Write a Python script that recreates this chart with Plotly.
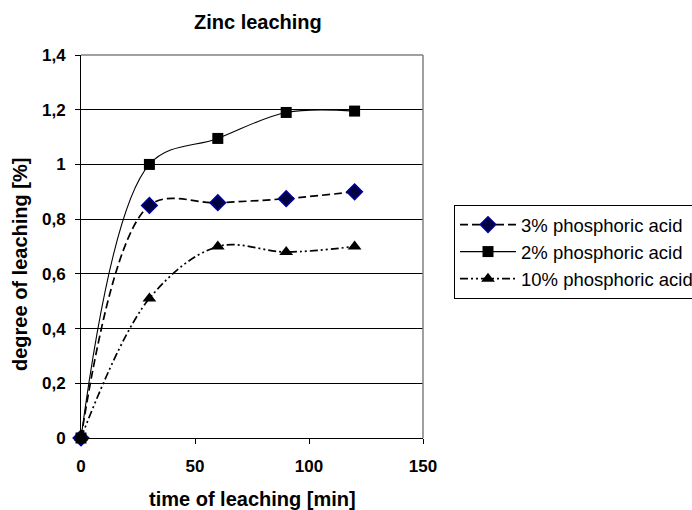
import plotly.graph_objects as go

time_min = [0, 30, 60, 90, 120]
acid3 = [0, 0.85, 0.86, 0.875, 0.90]
acid2 = [0, 1.00, 1.095, 1.19, 1.195]
acid10 = [0, 0.51, 0.70, 0.68, 0.70]
names = ["3% phosphoric acid", "2% phosphoric acid", "10% phosphoric acid"]
x_ticks = [0, 50, 100, 150]
y_ticks = [0, 0.2, 0.4, 0.6, 0.8, 1.0, 1.2, 1.4]

FONT = "Liberation Sans, Arial, sans-serif"

fig = go.Figure()
fig.add_trace(go.Scatter(
    x=time_min, y=acid3, name=names[0], mode="lines+markers",
    line=dict(color="black", width=1.7, dash="8px,4px", shape="spline", smoothing=1.0),
    marker=dict(symbol="diamond", size=12, color="#000040", line=dict(color="#0000a0", width=1.5)),
    cliponaxis=False))
fig.add_trace(go.Scatter(
    x=time_min, y=acid2, name=names[1], mode="lines+markers",
    line=dict(color="black", width=1.1, shape="spline", smoothing=1.0),
    marker=dict(symbol="square", size=11, color="black"),
    cliponaxis=False))
fig.add_trace(go.Scatter(
    x=time_min, y=acid10, name=names[2], mode="lines+markers",
    line=dict(color="black", width=1.7, dash="8px,3px,2px,3px,2px,3px", shape="spline", smoothing=1.0),
    marker=dict(symbol="triangle-up", size=12, color="black"),
    cliponaxis=False))

fig.update_layout(
    width=692, height=510,
    margin=dict(l=81, r=269, t=55, b=72, autoexpand=False),
    paper_bgcolor="white", plot_bgcolor="white",
    separators=", ",
    font=dict(family=FONT, color="black", size=17),
    showlegend=True,
    legend=dict(x=(454 - 81) / 342, xanchor="left", y=(438 - 205) / 383, yanchor="top",
                bordercolor="black", borderwidth=1, bgcolor="white",
                font=dict(size=18.5, family=FONT), tracegroupgap=0, itemwidth=56),
    xaxis=dict(range=[0, 150], tickvals=x_ticks, ticks="outside", ticklen=5, tickcolor="black",
               showgrid=False, zeroline=False, showline=True, linecolor="black", linewidth=1,
               tickfont=dict(size=17, family=FONT, weight="bold"), ticklabelstandoff=8),
    yaxis=dict(range=[0, 1.4], tickvals=y_ticks, ticks="outside", ticklen=5, tickcolor="black",
               showgrid=True, gridcolor="black", gridwidth=1, zeroline=False,
               showline=True, linecolor="black", linewidth=1,
               tickfont=dict(size=17, family=FONT, weight="bold"), ticklabelstandoff=6),
    annotations=[
        dict(text="<b>Zinc leaching</b>", xref="paper", yref="paper",
             x=(258 - 81) / 342, y=(438 - 22) / 383, xanchor="center", yanchor="middle",
             showarrow=False, font=dict(size=20, family=FONT)),
        dict(text="<b>time of leaching [min]</b>", xref="paper", yref="paper",
             x=(252 - 81) / 342, y=(438 - 499) / 383, xanchor="center", yanchor="middle",
             showarrow=False, font=dict(size=20, family=FONT)),
        dict(text="<b>degree of leaching [%]</b>", xref="paper", yref="paper",
             x=(20 - 81) / 342, y=(438 - 265) / 383, xanchor="center", yanchor="middle",
             textangle=-90, showarrow=False, font=dict(size=20, family=FONT)),
    ],
)
# gray top and right frame of the plot area
fig.add_shape(type="line", xref="paper", yref="paper", x0=0, x1=1, y0=1, y1=1,
              line=dict(color="#808080", width=1.5))
fig.add_shape(type="line", xref="paper", yref="paper", x0=1, x1=1, y0=0, y1=1,
              line=dict(color="#808080", width=1.5))

fig.write_html("out.html")
